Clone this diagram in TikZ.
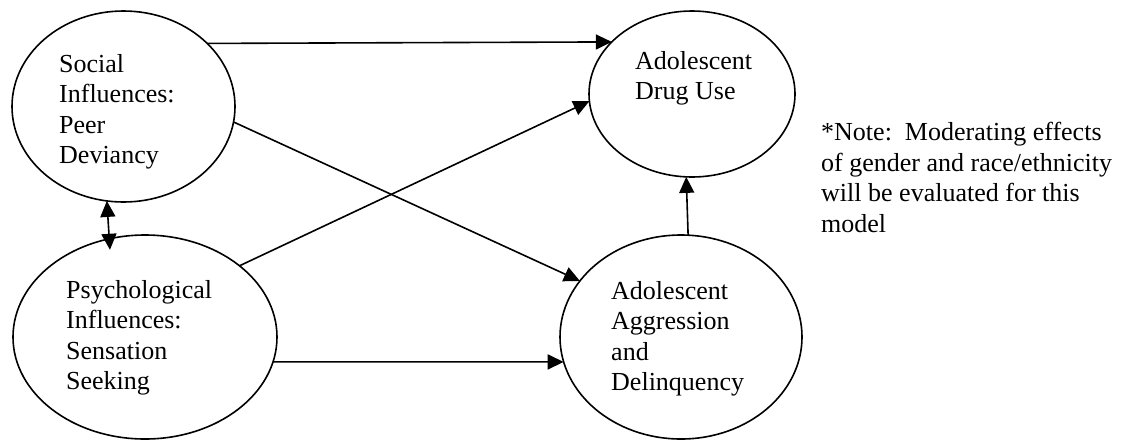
\documentclass[tikz,border=0pt]{standalone}
\usepackage{fontspec}
\setmainfont{Liberation Serif}
\usetikzlibrary{arrows.meta,shapes.geometric}
\begin{document}
\begin{tikzpicture}[x=1pt,y=-1pt,
  ell/.style={draw, ellipse, line width=1.6pt, inner sep=0pt, outer sep=0pt},
  lbl/.style={font=\fontsize{26}{30.5}\selectfont, align=left, inner sep=0pt, anchor=north west},
  tip/.tip={Triangle[length=16pt,width=15pt]},
  arr/.style={line width=1.6pt, -tip},
  darr/.style={line width=1.6pt, tip-tip}]
\useasboundingbox (0,0) rectangle (1123,440);
% ellipses
\node[ell, minimum width=223pt, minimum height=191pt] (e1) at (123.5,106.5) {};
\node[ell, minimum width=264pt, minimum height=204pt] (e2) at (145,337) {};
\node[ell, minimum width=206pt, minimum height=166pt] (e3) at (692,94) {};
\node[ell, minimum width=242pt, minimum height=204pt] (e4) at (681,337) {};
% labels
\node[lbl] (t1) at (59,54) {Social\\Influences:\\Peer\\Deviancy};
\node[lbl] (t2) at (66,280) {Psychological\\Influences:\\Sensation\\Seeking};
\node[lbl] (t3) at (635,51) {Adolescent\\Drug Use};
\node[lbl] (t4) at (611,281) {Adolescent\\Aggression\\and\\Delinquency};
\node[lbl] (note) at (821,122) {*Note:\ \ Moderating effects\\of gender and race/ethnicity\\will be evaluated for this\\model};
% connectors
\draw[arr] (e1.37.3) -- (e3.147.9);
\draw[arr] (e1.-8.4) -- (e4.151.5);
\draw[arr] (e2.37.75) -- (e3.184.9);
\draw[arr] (e2.-11.5) -- (e4.192.5);
\draw[arr] (e4.86.6) -- (e3.266.55);
\draw[darr, shorten >=-11pt] (e1.260.7) -- (e2.110.7);
\end{tikzpicture}
\end{document}
